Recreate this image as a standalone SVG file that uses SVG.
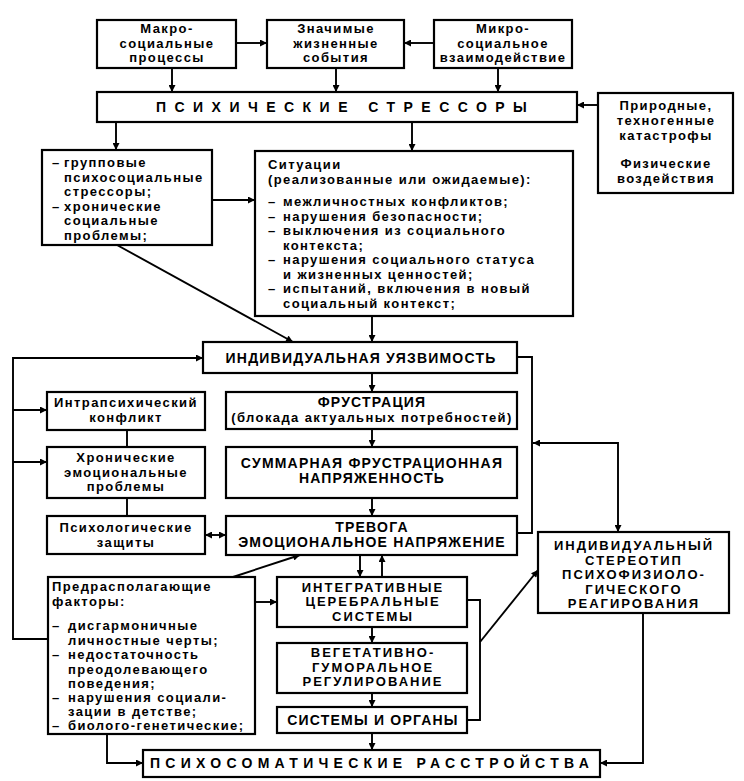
<svg xmlns="http://www.w3.org/2000/svg" width="744" height="781" viewBox="0 0 744 781">
<defs>
<style>
.b{fill:#fff;stroke:#000;stroke-width:2.2}
.c{fill:none;stroke:#000;stroke-width:1.9}
text{font-family:"Liberation Sans",Arial,sans-serif;font-weight:bold;fill:#000}
.l{font-size:13px;letter-spacing:1.4px}
.u{font-size:14px;letter-spacing:1.2px}
.s{font-size:13px;letter-spacing:2px}
.m{text-anchor:middle}
</style>
<marker id="a" viewBox="0 0 10 10" refX="10" refY="5" markerWidth="8" markerHeight="7" markerUnits="userSpaceOnUse" orient="auto-start-reverse"><path d="M0,0 L10,5 L0,10 z" fill="#000"/></marker>
</defs>
<rect width="744" height="781" fill="#fff"/>
<g id="connectors">
<path class="c" d="M236,43 H267" marker-end="url(#a)"/>
<path class="c" d="M434,43 H404" marker-end="url(#a)"/>
<path class="c" d="M172,68 V92" marker-end="url(#a)"/>
<path class="c" d="M336,68 V92" marker-end="url(#a)"/>
<path class="c" d="M498,68 V92" marker-end="url(#a)"/>
<path class="c" d="M598,105 H577" marker-end="url(#a)"/>
<path class="c" d="M116,122 V150" marker-end="url(#a)"/>
<path class="c" d="M412,122 V151" marker-end="url(#a)"/>
<path class="c" d="M212,200 H255" marker-end="url(#a)"/>
<path class="c" d="M117,245 L293,342" marker-end="url(#a)"/>
<path class="c" d="M372,316 V342" marker-end="url(#a)"/>
<path class="c" d="M372,373 V392" marker-end="url(#a)"/>
<path class="c" d="M372,429 V447" marker-end="url(#a)"/>
<path class="c" d="M372,498 V516" marker-end="url(#a)"/>
<path class="c" d="M48,639 H13 V358 H203" marker-end="url(#a)"/>
<path class="c" d="M13,410 H47" marker-end="url(#a)"/>
<path class="c" d="M13,462 H47" marker-end="url(#a)"/>
<path class="c" d="M127,430 V447"/>
<path class="c" d="M127,498 V516"/>
<path class="c" d="M205,535 H226" marker-start="url(#a)" marker-end="url(#a)"/>
<path class="c" d="M517,357 H532 V533 H517"/>
<path class="c" d="M533,443 H618 V532" marker-start="url(#a)" marker-end="url(#a)"/>
<path class="c" d="M360,555 V577" marker-end="url(#a)"/>
<path class="c" d="M382,577 V555" marker-end="url(#a)"/>
<path class="c" d="M233,577 L300,555" marker-end="url(#a)"/>
<path class="c" d="M255,602 H277" marker-end="url(#a)"/>
<path class="c" d="M372,627 V643" marker-end="url(#a)"/>
<path class="c" d="M372,693 V707" marker-end="url(#a)"/>
<path class="c" d="M372,733 V750" marker-end="url(#a)"/>
<path class="c" d="M467,600 H480 V720 H467"/>
<path class="c" d="M480,642 L538,570" marker-end="url(#a)"/>
<path class="c" d="M107,733 V763 H143" marker-end="url(#a)"/>
<path class="c" d="M643,613 V763 H600" marker-end="url(#a)"/>
</g>
<g id="macro">
<rect class="b" x="97" y="20" width="139" height="48"/>
<text class="l m" x="167" y="33">Макро-</text>
<text class="l m" x="167" y="47.5">социальные</text>
<text class="l m" x="167" y="62">процессы</text>
</g>
<g id="events">
<rect class="b" x="267" y="20" width="137" height="48"/>
<text class="l m" x="336" y="33">Значимые</text>
<text class="l m" x="336" y="47.5">жизненные</text>
<text class="l m" x="336" y="62">события</text>
</g>
<g id="micro">
<rect class="b" x="434" y="20" width="138" height="48"/>
<text class="l m" x="503" y="33">Микро-</text>
<text class="l m" x="503" y="47.5">социальное</text>
<text class="l m" x="503" y="62">взаимодействие</text>
</g>
<g id="stressors">
<rect class="b" x="97" y="92" width="480" height="30"/>
<text class="u" x="156" y="112" textLength="372" lengthAdjust="spacing">ПСИХИЧЕСКИЕ СТРЕССОРЫ</text>
</g>
<g id="nature">
<rect class="b" x="598" y="93" width="135" height="100"/>
<text class="l m" x="666" y="110">Природные,</text>
<text class="l m" x="666" y="125">техногенные</text>
<text class="l m" x="666" y="139.5">катастрофы</text>
<text class="l m" x="666" y="167.5">Физические</text>
<text class="l m" x="666" y="182.5">воздействия</text>
</g>
<g id="group">
<rect class="b" x="42" y="150" width="170" height="95"/>
<text class="l" x="52" y="167">–</text><text class="l" x="64" y="167">групповые</text>
<text class="l" x="64" y="182">психосоциальные</text>
<text class="l" x="64" y="196">стрессоры;</text>
<text class="l" x="52" y="210.5">–</text><text class="l" x="64" y="210.5">хронические</text>
<text class="l" x="64" y="225">социальные</text>
<text class="l" x="64" y="239.5">проблемы;</text>
</g>
<g id="situations">
<rect class="b" x="255" y="151" width="318" height="165"/>
<text class="l" x="268" y="169">Ситуации</text>
<text class="l" x="268" y="183.5">(реализованные или ожидаемые):</text>
<text class="l" x="268" y="206">–</text><text class="l" x="283" y="206">межличностных конфликтов;</text>
<text class="l" x="268" y="220.5">–</text><text class="l" x="283" y="220.5">нарушения безопасности;</text>
<text class="l" x="268" y="235">–</text><text class="l" x="283" y="235">выключения из социального</text>
<text class="l" x="283" y="249.5">контекста;</text>
<text class="l" x="268" y="264">–</text><text class="l" x="283" y="264">нарушения социального статуса</text>
<text class="l" x="283" y="278.5">и жизненных ценностей;</text>
<text class="l" x="268" y="293">–</text><text class="l" x="283" y="293">испытаний, включения в новый</text>
<text class="l" x="283" y="307.5">социальный контекст;</text>
</g>
<g id="vulnerability">
<rect class="b" x="203" y="342" width="314" height="31"/>
<text class="u m" x="361" y="362.5">ИНДИВИДУАЛЬНАЯ УЯЗВИМОСТЬ</text>
</g>
<g id="intrapsychic">
<rect class="b" x="47" y="392" width="158" height="38"/>
<text class="l m" x="126" y="407">Интрапсихический</text>
<text class="l m" x="126" y="422">конфликт</text>
</g>
<g id="frustration">
<rect class="b" x="226" y="392" width="291" height="37"/>
<text class="u m" x="372" y="407">ФРУСТРАЦИЯ</text>
<text class="l m" x="372" y="421.5">(блокада актуальных потребностей)</text>
</g>
<g id="chronic">
<rect class="b" x="47" y="447" width="158" height="51"/>
<text class="l m" x="126" y="462">Хронические</text>
<text class="l m" x="126" y="477">эмоциональные</text>
<text class="l m" x="126" y="491">проблемы</text>
</g>
<g id="summary">
<rect class="b" x="226" y="447" width="291" height="51"/>
<text class="u m" x="372" y="468">СУММАРНАЯ ФРУСТРАЦИОННАЯ</text>
<text class="u m" x="372" y="483">НАПРЯЖЕННОСТЬ</text>
</g>
<g id="defenses">
<rect class="b" x="47" y="516" width="158" height="38"/>
<text class="l m" x="126" y="532">Психологические</text>
<text class="l m" x="126" y="547">защиты</text>
</g>
<g id="anxiety">
<rect class="b" x="226" y="516" width="291" height="39"/>
<text class="u m" x="372" y="532">ТРЕВОГА</text>
<text class="u m" x="372" y="547">ЭМОЦИОНАЛЬНОЕ НАПРЯЖЕНИЕ</text>
</g>
<g id="predisposing">
<rect class="b" x="48" y="577" width="207" height="157"/>
<text class="l" x="52" y="591">Предрасполагающие</text>
<text class="l" x="52" y="605.5">факторы:</text>
<text class="l" x="52" y="630">–</text><text class="l" x="68" y="630">дисгармоничные</text>
<text class="l" x="68" y="644.5">личностные черты;</text>
<text class="l" x="52" y="659">–</text><text class="l" x="68" y="659">недостаточность</text>
<text class="l" x="68" y="673.5">преодолевающего</text>
<text class="l" x="68" y="688">поведения;</text>
<text class="l" x="52" y="702">–</text><text class="l" x="68" y="702">нарушения социали-</text>
<text class="l" x="68" y="716">зации в детстве;</text>
<text class="l" x="52" y="730">–</text><text class="l" x="68" y="730">биолого-генетические;</text>
</g>
<g id="integrative">
<rect class="b" x="277" y="577" width="190" height="50"/>
<text class="s m" x="373" y="591.5">ИНТЕГРАТИВНЫЕ</text>
<text class="s m" x="373" y="606">ЦЕРЕБРАЛЬНЫЕ</text>
<text class="s m" x="373" y="620.5">СИСТЕМЫ</text>
</g>
<g id="vegetative">
<rect class="b" x="277" y="643" width="190" height="50"/>
<text class="s m" x="373" y="657">ВЕГЕТАТИВНО-</text>
<text class="s m" x="373" y="671.5">ГУМОРАЛЬНОЕ</text>
<text class="s m" x="373" y="686">РЕГУЛИРОВАНИЕ</text>
</g>
<g id="organs">
<rect class="b" x="277" y="707" width="190" height="26"/>
<text class="u m" x="373" y="725">СИСТЕМЫ И ОРГАНЫ</text>
</g>
<g id="stereotype">
<rect class="b" x="538" y="532" width="191" height="81"/>
<text class="s m" x="634" y="550">ИНДИВИДУАЛЬНЫЙ</text>
<text class="s m" x="634" y="564.5">СТЕРЕОТИП</text>
<text class="s m" x="634" y="579">ПСИХОФИЗИОЛО-</text>
<text class="s m" x="634" y="593.5">ГИЧЕСКОГО</text>
<text class="s m" x="634" y="608">РЕАГИРОВАНИЯ</text>
</g>
<g id="psychosomatic">
<rect class="b" x="143" y="750" width="457" height="27"/>
<text class="u" x="150" y="768" textLength="440" lengthAdjust="spacing">ПСИХОСОМАТИЧЕСКИЕ РАССТРОЙСТВА</text>
</g>
</svg>
